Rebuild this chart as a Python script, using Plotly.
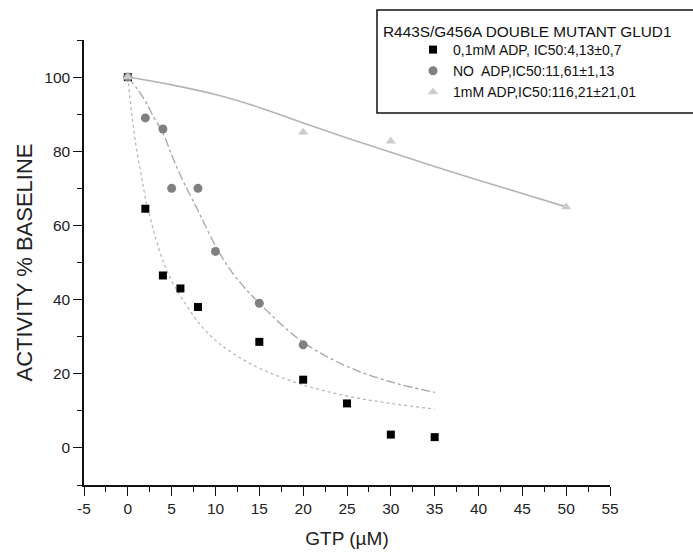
import plotly.graph_objects as go

# ---- data ----
gtp_sq = [0, 2, 4, 6, 8, 15, 20, 25, 30, 35]
act_sq = [100, 64.5, 46.5, 43, 38, 28.6, 18.4, 12, 3.6, 2.9]

gtp_ci = [0, 2, 4, 5, 8, 10, 15, 20]
act_ci = [100, 89, 86, 70, 70, 53, 39, 27.8]

gtp_tr = [0, 20, 30, 50]
act_tr = [100, 85.1, 82.7, 65]

# fitted curves
fit_sq_x = [0, 0.5, 1, 1.5, 2, 3, 4, 5, 6, 8, 10, 12, 15, 20, 25, 30, 35]
fit_sq_y = [100, 89, 80.5, 74, 67.5, 58, 50.5, 45, 41, 34, 29, 25.5, 21.5, 17, 14, 12, 10.5]

fit_ci_x = [0, 1, 2, 3, 4, 5, 6, 8, 10, 12, 15, 20, 25, 30, 35]
fit_ci_y = [100, 97, 93.5, 89, 85, 79, 73.5, 64, 54.5, 47, 39, 28.5, 22, 17.8, 15]

fit_tr_x = [0, 5, 10, 15, 20, 25, 30, 35, 40, 45, 50]
fit_tr_y = [100, 97.9, 95.3, 91.8, 87.6, 83.6, 79.7, 75.9, 72.2, 68.6, 65]

x_tickvals = [-5, 0, 5, 10, 15, 20, 25, 30, 35, 40, 45, 50, 55]
x_ticktext = ["-5", "0", "5", "10", "15", "20", "25", "30", "35", "40", "45", "50", "55"]

names = ["0,1mM ADP, IC50:4,13±0,7",
         "NO  ADP,IC50:11,61±1,13",
         "1mM ADP,IC50:116,21±21,01"]
legend_title = "R443S/G456A DOUBLE MUTANT GLUD1"
x_title = "GTP (µM)"
y_title = "ACTIVITY % BASELINE"

FONT = "Liberation Sans, Arial, sans-serif"

fig = go.Figure()
fig.add_trace(go.Scatter(x=fit_sq_x, y=fit_sq_y, mode="lines", line_shape="spline",
                         line=dict(color="#b8b8b8", width=1.3, dash="dot"),
                         showlegend=False, hoverinfo="skip"))
fig.add_trace(go.Scatter(x=fit_ci_x, y=fit_ci_y, mode="lines", line_shape="spline",
                         line=dict(color="#a4a4a4", width=1.3, dash="dashdot"),
                         showlegend=False, hoverinfo="skip"))
fig.add_trace(go.Scatter(x=fit_tr_x, y=fit_tr_y, mode="lines", line_shape="spline",
                         line=dict(color="#b4b4b4", width=1.6),
                         showlegend=False, hoverinfo="skip"))

fig.add_trace(go.Scatter(x=gtp_sq, y=act_sq, mode="markers", name=names[0],
                         marker=dict(symbol="square", size=8, color="#000000")))
fig.add_trace(go.Scatter(x=gtp_ci, y=act_ci, mode="markers", name=names[1],
                         marker=dict(symbol="circle", size=9, color="#808080")))
fig.add_trace(go.Scatter(x=gtp_tr, y=act_tr, mode="markers", name=names[2],
                         marker=dict(symbol="triangle-up", size=9, color="#cccccc")))

L, R, T, B = 84, 83, 40, 69
W, H = 693, 554
pw, ph = W - L - R, H - T - B

def px(xp):
    return (xp - L) / pw

def py(yp):
    return (H - B - yp) / ph

axis_common = dict(showline=True, linecolor="#111111", linewidth=1.5,
                   showgrid=False, zeroline=False, ticks="outside",
                   ticklen=9, tickwidth=1.3, tickcolor="#111111",
                   automargin=False,
                   tickfont=dict(family=FONT, size=15.5, color="#222222"))

fig.update_xaxes(range=[-5, 55], tickmode="array", tickvals=x_tickvals, ticktext=x_ticktext,
                 minor=dict(ticks="outside", ticklen=5, dtick=2.5, tick0=0,
                            tickcolor="#111111", tickwidth=1.3),
                 title=dict(text=x_title, font=dict(family=FONT, size=19, color="#222222"),
                            standoff=15),
                 **axis_common)
fig.update_yaxes(range=[-10, 110], tick0=0, dtick=20,
                 minor=dict(ticks="outside", ticklen=5, dtick=10, tick0=0,
                            tickcolor="#111111", tickwidth=1.3),
                 title=dict(text=y_title, font=dict(family=FONT, size=22, color="#222222"),
                            standoff=6),
                 **axis_common)

fig.add_shape(type="rect", xref="paper", yref="paper",
              x0=px(377), x1=px(705), y0=py(113), y1=py(10),
              line=dict(color="#111111", width=1.5), fillcolor="rgba(0,0,0,0)")
fig.add_annotation(text=legend_title, xref="paper", yref="paper",
                   x=px(381), y=py(31), xanchor="left", yanchor="middle",
                   showarrow=False, font=dict(family=FONT, size=15.4, color="#111111"))

fig.update_layout(
    width=W, height=H,
    margin=dict(l=L, r=R, t=T, b=B),
    paper_bgcolor="white", plot_bgcolor="white",
    font=dict(family=FONT, color="#222222"),
    legend=dict(x=px(413), y=py(34), xanchor="left", yanchor="top",
                bgcolor="rgba(0,0,0,0)", borderwidth=0,
                font=dict(family=FONT, size=14, color="#111111"),
                tracegroupgap=0, itemsizing="trace"),
)

fig.write_html("out.html")
